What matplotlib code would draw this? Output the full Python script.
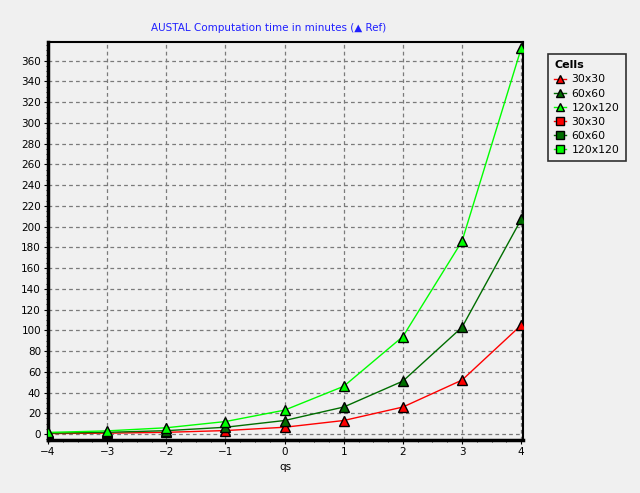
import matplotlib.pyplot as plt
from matplotlib.ticker import MultipleLocator
from matplotlib.lines import Line2D

# ======================== data ========================
qs = [-4, -3, -2, -1, 0, 1, 2, 3, 4]
t_30 = [0.4, 0.8, 1.6, 3.3, 6.5, 13, 26, 52, 105]
t_60 = [0.8, 1.6, 3.2, 6.5, 13, 26, 51, 103, 207]
t_120 = [1.5, 3.0, 6.0, 12, 23, 46, 94, 186, 372]
cells = ['30x30', '60x60', '120x120']
colors = ['#ff0000', '#006e00', '#00ff00']

bg = '#f0f0f0'
fig = plt.figure(figsize=(6.4, 4.93), dpi=100, facecolor=bg)
ax = fig.add_axes([48 / 640, 53 / 493, 475 / 640, 398 / 493], facecolor=bg)

for ys, c in zip([t_30, t_60, t_120], colors):
    ax.plot(qs, ys, color=c, lw=1, marker='^', ms=6.5, mfc=c, mec='black', mew=1, zorder=3)

ax.set_xlim(-4, 4.03)
ax.set_ylim(-5.8, 378)
ax.xaxis.set_major_locator(MultipleLocator(1))
ax.xaxis.set_minor_locator(MultipleLocator(0.25))
ax.yaxis.set_major_locator(MultipleLocator(20))
ax.yaxis.set_minor_locator(MultipleLocator(5))
ax.grid(True, which='major', ls=(0, (3, 2.5)), color='#7a7a7a', lw=0.9)
ax.tick_params(which='both', direction='out', labelsize=7.5, colors='black', pad=2)
ax.tick_params(which='major', length=3)
ax.tick_params(which='minor', length=1.5)
for s in ['left', 'bottom']:
    ax.spines[s].set_linewidth(2.5)
for s in ['top', 'right']:
    ax.spines[s].set_linewidth(1.5)

ax.set_xlabel('qs', fontsize=7.5, labelpad=4)
fig.text(0.42, 0.943, 'AUSTAL Computation time in minutes (\u25b2 Ref)', color='#2020ff',
         fontsize=7.5, ha='center', va='center')

handles = []
for c, name in zip(colors, cells):
    handles.append(Line2D([], [], color=c, lw=1, marker='^', ms=5.5, mfc=c, mec='black', label=name))
for c, name in zip(colors, cells):
    handles.append(Line2D([], [], color=c, lw=1, marker='s', ms=6, mfc=c, mec='black', label=name))
leg = fig.legend(handles=handles, title='Cells', loc='upper left', bbox_to_anchor=(543 / 640, 1 - 49 / 493),
                 fontsize=7.8, title_fontsize=8, frameon=True, fancybox=False, edgecolor='black',
                 handlelength=1.1, borderpad=0.55, labelspacing=0.38, handletextpad=0.5)
leg.get_frame().set_linewidth(1.2)
leg.get_frame().set_facecolor(bg)
leg.get_title().set_fontweight('bold')
leg._legend_box.align = 'left'

fig.savefig('out.png', dpi=100, facecolor=bg)
